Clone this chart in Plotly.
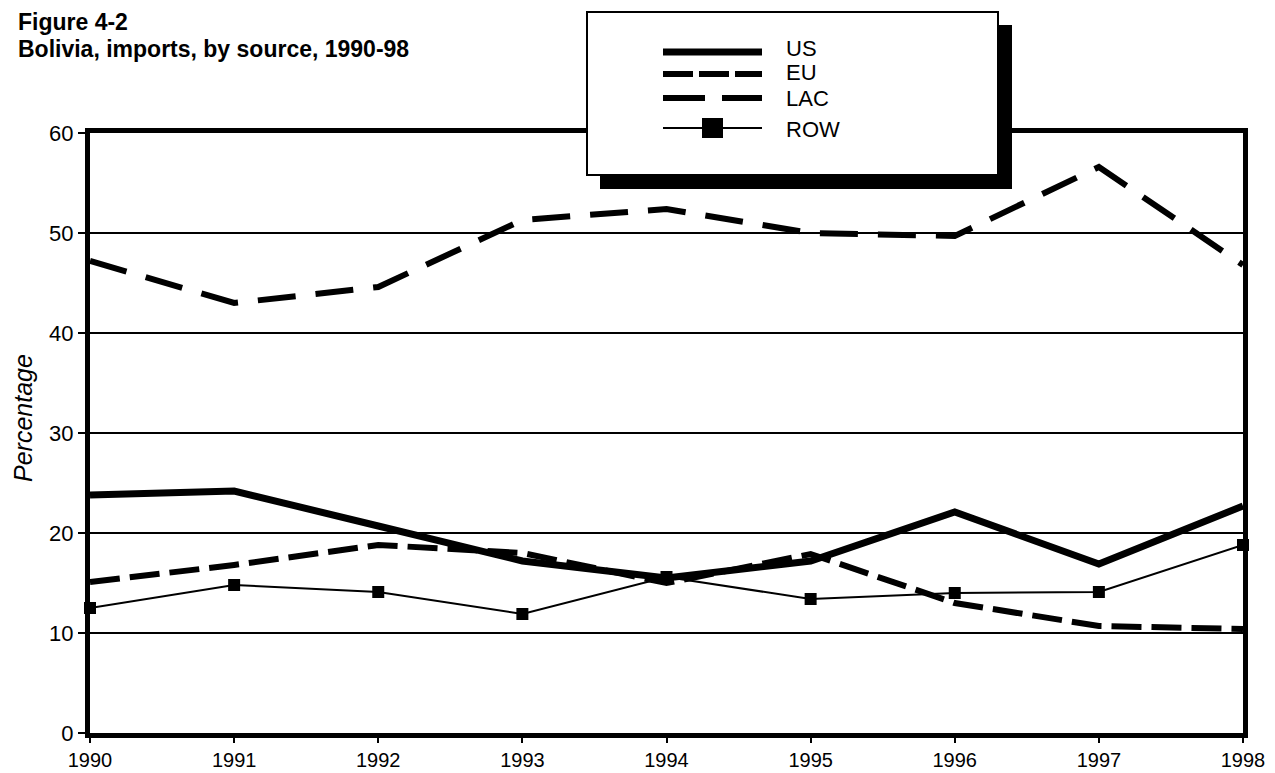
import plotly.graph_objects as go

years = [1990, 1991, 1992, 1993, 1994, 1995, 1996, 1997, 1998]
us = [23.8, 24.2, 20.7, 17.2, 15.5, 17.2, 22.1, 16.9, 22.7]
eu = [15.1, 16.8, 18.8, 18.0, 15.0, 17.9, 13.0, 10.7, 10.4]
lac = [47.2, 43.0, 44.6, 51.3, 52.4, 50.0, 49.7, 56.6, 46.8]
row = [12.5, 14.8, 14.1, 11.9, 15.6, 13.4, 14.0, 14.1, 18.8]

series_names = ["US", "EU", "LAC", "ROW"]
y_ticks = [0, 10, 20, 30, 40, 50, 60]

FONT = "Liberation Sans, Arial, Helvetica, sans-serif"

W, H = 1275, 773
L, R, T, B = 90, 32, 133, 40
PW = W - L - R
PH = H - T - B


def px_x(p):
    return (p - L) / PW


def px_y(p):
    return (H - B - p) / PH


fig = go.Figure()
fig.add_trace(go.Scatter(x=years, y=lac, mode="lines", name="LAC",
                         line=dict(color="black", width=6, dash="38px,20px")))
fig.add_trace(go.Scatter(x=years, y=eu, mode="lines", name="EU",
                         line=dict(color="black", width=6, dash="30px,10px")))
fig.add_trace(go.Scatter(x=years, y=us, mode="lines", name="US",
                         line=dict(color="black", width=7)))
fig.add_trace(go.Scatter(x=years, y=row, mode="lines+markers", name="ROW",
                         line=dict(color="black", width=2),
                         marker=dict(symbol="square", size=12, color="black"),
                         cliponaxis=False))

shapes = []
annotations = []

# legend box with shadow
shapes.append(dict(type="rect", xref="paper", yref="paper",
                   x0=px_x(600), x1=px_x(1012), y0=px_y(189), y1=px_y(25),
                   fillcolor="black", line=dict(width=0), layer="above"))
shapes.append(dict(type="rect", xref="paper", yref="paper",
                   x0=px_x(587), x1=px_x(998), y0=px_y(175), y1=px_y(12),
                   fillcolor="white", line=dict(color="black", width=2), layer="above"))

legend_rows = [
    ("US", 52, dict(color="black", width=7), 48),
    ("EU", 74, dict(color="black", width=6, dash="30px,6px"), 72),
    ("LAC", 98, dict(color="black", width=6, dash="42px,17px"), 98),
    ("ROW", 128, dict(color="black", width=2), 129),
]
for name, ly, lstyle, ty in legend_rows:
    shapes.append(dict(type="line", xref="paper", yref="paper",
                       x0=px_x(663), x1=px_x(762), y0=px_y(ly), y1=px_y(ly),
                       line=lstyle, layer="above"))
    annotations.append(dict(text=name, xref="paper", yref="paper",
                            x=px_x(784), y=px_y(ty), xanchor="left", yanchor="middle",
                            showarrow=False, font=dict(family=FONT, size=22, color="black")))
shapes.append(dict(type="rect", xref="paper", yref="paper",
                   x0=px_x(702), x1=px_x(723), y0=px_y(138), y1=px_y(118),
                   fillcolor="black", line=dict(width=0), layer="above"))

annotations.append(dict(text="<b>Figure 4-2</b>", xref="paper", yref="paper",
                        x=px_x(16), y=px_y(22), xanchor="left", yanchor="middle",
                        showarrow=False, font=dict(family=FONT, size=23, color="black")))
annotations.append(dict(text="<b>Bolivia, imports, by source, 1990-98</b>", xref="paper", yref="paper",
                        x=px_x(16), y=px_y(49), xanchor="left", yanchor="middle",
                        showarrow=False, font=dict(family=FONT, size=23, color="black")))
annotations.append(dict(text="<i>Percentage</i>", xref="paper", yref="paper",
                        x=px_x(23), y=px_y(418), xanchor="center", yanchor="middle",
                        textangle=-90, showarrow=False,
                        font=dict(family=FONT, size=25, color="black")))

fig.update_layout(
    template="none",
    width=W, height=H,
    margin=dict(l=L, r=R, t=T, b=B, autoexpand=False),
    paper_bgcolor="white", plot_bgcolor="white",
    showlegend=False,
    font=dict(family=FONT, size=22, color="black"),
    shapes=shapes,
    annotations=annotations,
    xaxis=dict(range=[1990, 1998], tickmode="array", tickvals=years,
               ticktext=[str(y) for y in years], automargin=False,
               showgrid=False, zeroline=False,
               showline=True, linecolor="black", linewidth=5, mirror=True,
               ticks="outside", ticklen=5, tickwidth=2, tickcolor="black",
               tickfont=dict(family=FONT, size=20, color="black")),
    yaxis=dict(range=[0, 60], tickmode="array", tickvals=y_ticks,
               ticktext=[str(v) for v in y_ticks], automargin=False,
               showgrid=True, gridcolor="black", gridwidth=2, zeroline=False,
               showline=True, linecolor="black", linewidth=5, mirror=True,
               ticks="outside", ticklen=7, tickwidth=2, tickcolor="black",
               tickfont=dict(family=FONT, size=22, color="black")),
)

fig.write_html("out.html", config={"displayModeBar": False},
               post_script="document.body.style.margin='0';document.body.style.overflow='hidden';")
